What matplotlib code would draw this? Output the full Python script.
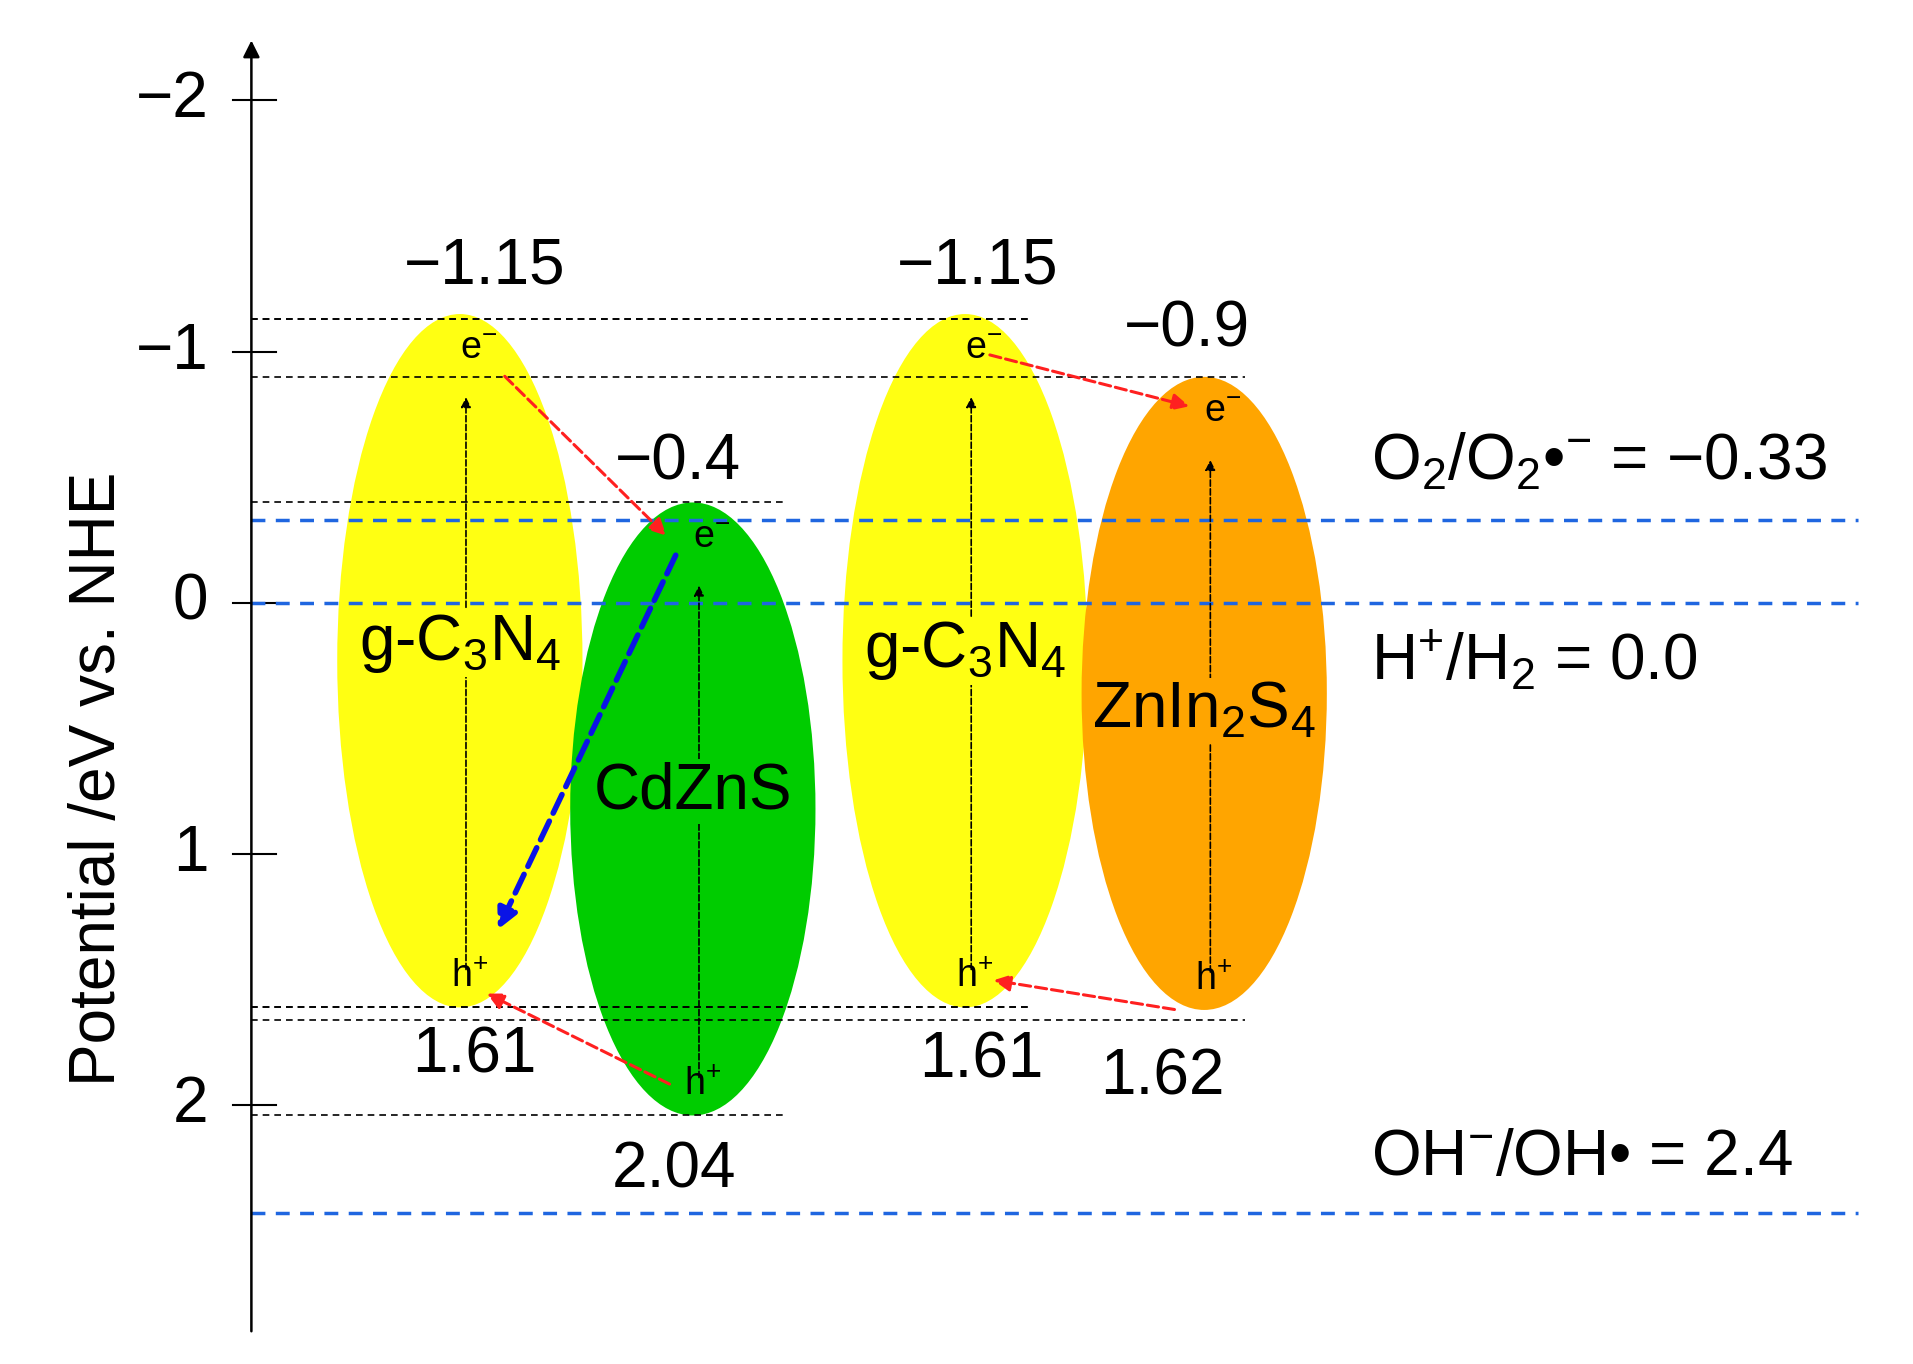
import matplotlib.pyplot as plt
from matplotlib.patches import Ellipse

plt.rcParams['font.family'] = ['Liberation Sans', 'DejaVu Sans']
plt.rcParams['mathtext.fontset'] = 'custom'
plt.rcParams['mathtext.rm'] = 'Liberation Sans'
plt.rcParams['mathtext.it'] = 'Liberation Sans'

# band edges (eV vs NHE)
names = ['g-C$_3$N$_4$', 'CdZnS', 'g-C$_3$N$_4$', 'ZnIn$_2$S$_4$']
cb = [-1.15, -0.4, -1.15, -0.9]
vb = [1.61, 2.04, 1.61, 1.62]
cb_text = ['\u22121.15', '\u22120.4', '\u22121.15', '\u22120.9']
vb_text = ['1.61', '2.04', '1.61', '1.62']
colors = ['#ffff12', '#00cc00', '#ffff12', '#ffa500']
xc = [375, 565, 787, 982]   # horizontal layout position
redox = [-0.33, 0.0, 2.43]
redox_text = ['O$_2$/O$_2$\u2022$^{-}$ = \u22120.33', 'H$^{+}$/H$_2$ = 0.0', 'OH$^{-}$/OH\u2022 = 2.4']
redox_y = [-0.56, 0.23, 2.21]
ticks = [-2, -1, 0, 1, 2]

fig = plt.figure(figsize=(19.13, 13.64), dpi=100)
ax = fig.add_axes([0, 0, 1, 1])
ax.set_xlim(0, 1560)
ax.set_ylim(492 - 1113, 492) if False else ax.set_ylim((1113 - 492) / 205, -492 / 205)
ax.axis('off')

# axis
ax.annotate('', xy=(205, -2.25), xytext=(205, 2.91),
            arrowprops=dict(arrowstyle='-|>', color='k', lw=1.8, mutation_scale=25))
for t in ticks:
    ax.plot([190, 225], [t, t], color='k', lw=1.5)
    ax.text(170, t, str(t).replace('-', '\u2212'), ha='right', va='center', fontsize=46)
ax.text(80, 0.7, 'Potential /eV vs. NHE', rotation=90, ha='center', va='center', fontsize=46)

# reference dashed lines
ends = [840, 640, 840, 1015]
for c, v, e in zip(cb, vb, ends):
    ax.plot([205, e], [c + (0.02 if c == -1.15 else 0), c + (0.02 if c == -1.15 else 0)], color='k', ls='--', lw=1.2, dashes=(4, 3))
    ax.plot([205, e], [v + (0.04 if e == 1015 else 0)] * 2, color='k', ls='--', lw=1.2, dashes=(4, 3))
for r, txt, ty in zip(redox, redox_text, redox_y):
    ax.plot([205, 1515], [r, r], color='#1f66e0', ls='--', lw=2.5, dashes=(4, 3))
    ax.text(1118, ty, txt, ha='left', va='center', fontsize=46)

labely = [0.16, 0.75, 0.19, 0.43]
for i in range(4):
    ax.add_patch(Ellipse((xc[i], (cb[i] + vb[i]) / 2), 200, vb[i] - cb[i], facecolor=colors[i], edgecolor='none'))
    ax.annotate('', xy=(xc[i] + 5, cb[i] + 0.32), xytext=(xc[i] + 5, vb[i] - 0.14),
                arrowprops=dict(arrowstyle='-|>', color='k', lw=1.2, ls='--', mutation_scale=15))
    ax.text(xc[i], labely[i], names[i], ha='center', va='center', fontsize=46,
            bbox=dict(facecolor=colors[i], edgecolor='none', pad=2))
    ax.text(xc[i] + 15, cb[i] + 0.14, 'e$^{-}$', ha='center', va='center', fontsize=27)
    ax.text(xc[i] + 8, vb[i] - 0.12, 'h$^{+}$', ha='center', va='center', fontsize=27)

cb_pos = [(395, -1.34), (553, -0.56), (797, -1.34), (968, -1.09)]
vb_pos = [(387, 1.80), (550, 2.26), (800, 1.82), (948, 1.89)]
for (x, y), t in zip(cb_pos, cb_text):
    ax.text(x, y, t, ha='center', va='center', fontsize=46)
for (x, y), t in zip(vb_pos, vb_text):
    ax.text(x, y, t, ha='center', va='center', fontsize=46)

# charge transfer arrows
red = [((410, -0.91), (545, -0.26)), ((805, -0.99), (972, -0.78)),
       ((548, 1.92), (395, 1.55)), ((960, 1.62), (808, 1.50))]
for a, b in red:
    ax.annotate('', xy=b, xytext=a,
                arrowprops=dict(arrowstyle='-|>', color='#ff2020', lw=2.2, ls='--', mutation_scale=25))
ax.annotate('', xy=(405, 1.31), xytext=(552, -0.2),
            arrowprops=dict(arrowstyle='-|>', color='#0a14e6', lw=4, ls='--', mutation_scale=30))

plt.savefig('out.png')
